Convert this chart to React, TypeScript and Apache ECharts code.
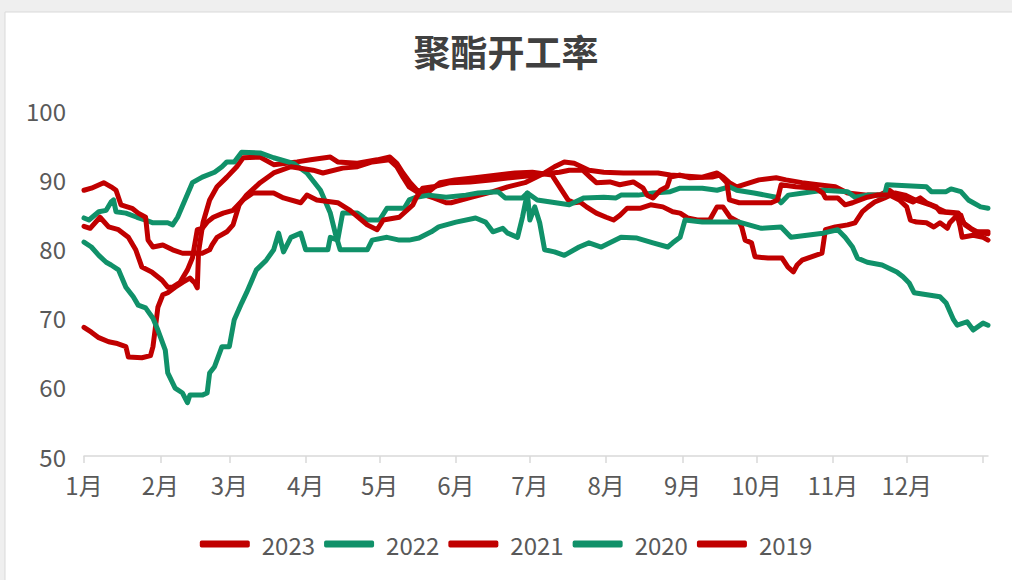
import React, { useEffect, useRef } from "react";
import * as echarts from "echarts";

const chartTitle = "聚酯开工率";
const months = ["1月", "2月", "3月", "4月", "5月", "6月", "7月", "8月", "9月", "10月", "11月", "12月"];
const monthStartDays = [0, 31, 59, 90, 120, 151, 181, 212, 243, 273, 304, 334, 365];
const yTicks = [50, 60, 70, 80, 90, 100];
const seriesNames = ["2023", "2022", "2021", "2020", "2019"];

// [day of year, rate %]
const data2023 = [
  [0, 68.6], [3, 67.9], [6, 67.1], [10, 66.5], [13, 66.3], [17, 65.8], [18, 64.3], [23.5, 64.2], [27, 64.5], [28, 65.8],
  [29, 68.6], [30, 71.5], [32, 73.3], [34, 73.6], [37, 74.4], [40, 75.1], [43, 75.7], [45, 75.0], [46, 74.3], [46.5, 79.5],
  [48.3, 83.7], [51, 87.0], [54, 88.9], [58, 90.3], [62, 91.8], [64.6, 93.1], [71.5, 93.2], [77, 92.1], [86.5, 92.5], [92, 92.8],
  [100, 93.2], [103, 92.5], [111, 92.3], [119, 92.8], [124.2, 93.2], [127, 92.3], [129.5, 90.9], [132.4, 89.5], [135.2, 88.4], [139.3, 88.0],
  [144.5, 89.5], [150.6, 89.9], [158.7, 90.2], [168, 90.6], [175, 90.9], [182, 91.0], [190, 90.6], [194, 88.4], [196.5, 87.0], [199, 86.6],
  [201.4, 86.7], [204, 86.0], [208, 85.1], [212, 84.5], [215, 84.1], [217.6, 84.8], [220.5, 85.8], [225.7, 85.8], [230, 86.3], [235, 86.0],
  [239, 85.3], [242, 85.1], [245, 84.4], [249, 84.1], [254, 84.1], [257, 86.0], [259.4, 86.0], [262.3, 84.5], [266, 83.8], [267, 83.1],
  [268.4, 81.2], [271, 80.8], [272.4, 78.8], [277.7, 78.6], [283.4, 78.6], [285.8, 77.3], [288, 76.6], [289.5, 77.6], [291.5, 78.3], [297, 79.0],
  [299.6, 79.3], [301, 82.7], [305, 83.1], [310, 83.4], [313, 83.7], [316, 85.3], [318.3, 86.0], [321, 86.7], [325, 87.3], [329.3, 88.0],
  [333.3, 87.7], [337.4, 87.0], [343.5, 86.3], [349.6, 85.3], [355, 85.1], [357.7, 83.4], [361.8, 82.4], [367, 82.1],
];

const data2022 = [
  [0, 84.4], [2, 84.1], [6, 85.3], [9, 85.5], [11, 86.7], [12, 87.0], [13, 85.3], [17, 85.1], [21.5, 84.5], [25, 84.1],
  [28, 83.7], [34, 83.7], [36, 83.4], [38, 84.5], [41, 87.0], [44, 89.5], [48, 90.3], [53, 91.0], [56, 91.8], [58, 92.5],
  [61, 92.5], [64, 93.9], [71.5, 93.8], [77, 93.1], [85, 92.3], [90.5, 90.9], [96, 88.4], [100, 85.1], [102, 82.2], [104, 79.8],
  [115, 79.8], [117, 81.2], [123, 81.6], [128, 81.2], [132, 81.2], [136, 81.5], [141, 82.4], [144, 83.1], [151, 83.8], [159, 84.4],
  [163, 83.8], [166, 82.4], [170, 82.9], [172, 82.2], [176, 81.6], [178, 84.5], [180, 88.0], [181, 84.1], [183, 86.0], [185, 83.7],
  [187, 79.8], [191, 79.5], [195, 79.0], [201, 80.2], [205, 80.8], [210, 80.2], [218, 81.6], [224.5, 81.5], [231, 80.8], [237, 80.2],
  [239, 80.8], [242, 81.6], [244, 84.1], [251, 83.8], [266, 83.8], [275, 82.9], [283, 83.1], [287, 81.6], [300, 82.2], [306, 82.7],
  [309, 81.6], [312, 80.2], [314, 78.6], [318, 78.0], [324, 77.6], [330, 76.6], [332.5, 75.9], [335, 75.0], [337, 73.6], [347.5, 73.0],
  [350, 72.1], [353, 69.7], [354.5, 68.9], [358.5, 69.4], [361, 68.2], [365, 69.2], [367, 68.9],
];

const data2021 = [
  [0, 88.4], [3, 88.7], [8, 89.5], [11, 88.9], [13, 88.4], [15, 86.3], [19.5, 85.8], [22, 85.1], [25, 84.5], [26, 81.2],
  [28, 80.2], [32, 80.5], [36, 79.8], [40, 79.3], [48, 79.3], [51, 79.8], [52, 80.5], [54, 81.6], [58, 82.4], [60.5, 83.4],
  [63, 86.3], [66, 87.7], [71.5, 89.5], [77, 90.9], [84, 91.8], [93, 91.3], [97, 90.9], [105, 91.6], [111, 91.8], [117, 92.5],
  [124, 92.8], [127, 91.8], [129.5, 90.3], [132, 88.9], [136, 88.0], [142, 87.3], [147, 86.6], [149, 86.6], [157.5, 87.4], [166, 88.2],
  [172, 88.9], [179, 89.5], [187, 90.9], [191, 91.8], [195, 92.5], [199, 92.3], [205, 91.3], [211, 91.0], [219, 90.9], [233, 90.9],
  [238, 90.6], [251, 90.3], [257, 90.9], [259.5, 90.3], [262, 89.5], [265, 88.9], [274, 89.9], [281, 90.2], [285, 89.9], [291.5, 89.5],
  [298, 89.2], [305, 88.9], [310, 88.0], [318, 87.7], [323, 87.7], [327, 88.4], [328.5, 88.0], [332.5, 87.3], [336.5, 86.7], [339.5, 87.3],
  [342, 86.6], [346, 86.0], [347.5, 85.3], [353, 85.1], [356, 84.8], [357, 83.7], [360, 82.9], [362.5, 82.4], [367, 82.4],
];

const data2020 = [
  [0, 80.9], [3, 80.2], [6, 79.0], [9, 78.0], [11, 77.6], [14, 76.9], [17, 74.4], [20, 73.0], [22, 71.8], [25, 71.4],
  [28, 69.9], [30, 68.2], [33, 65.3], [34, 62.0], [37, 59.8], [40, 59.1], [42, 57.7], [43, 58.8], [48, 58.8], [50, 59.1],
  [51, 62.0], [53, 62.9], [56, 65.8], [59, 65.8], [61, 69.7], [64, 72.1], [66, 73.6], [70, 76.9], [74, 78.3], [77, 79.8],
  [79, 82.2], [81, 79.5], [84, 81.6], [88, 82.2], [90, 79.8], [99, 79.8], [100, 81.6], [103, 81.2], [105, 85.1], [111, 85.1],
  [115, 84.1], [120, 84.1], [123, 85.8], [130, 85.8], [132, 87.0], [135, 87.4], [140, 87.7], [147, 87.4], [155, 87.7], [160, 88.0],
  [168, 88.2], [171, 87.3], [178, 87.3], [180, 88.0], [184, 87.0], [197, 86.3], [203, 87.3], [211, 87.4], [216, 87.3], [218, 87.7],
  [225, 87.7], [231, 88.0], [238, 88.2], [242, 88.7], [251, 88.7], [257, 88.4], [262, 88.9], [265, 88.4], [272, 88.0], [281, 87.4],
  [283, 86.6], [286, 87.7], [292, 88.0], [300, 88.4], [310, 88.2], [313, 87.4], [318, 87.7], [325, 87.7], [326, 89.2], [342, 88.9],
  [344, 88.2], [350, 88.2], [352, 88.6], [356, 88.2], [359, 87.0], [361, 86.6], [364, 86.0], [367, 85.8],
];

const data2019 = [
  [0, 83.2], [2.5, 82.9], [6.5, 84.5], [10, 83.1], [14, 82.7], [18, 81.6], [21, 79.8], [23.5, 77.3], [27.5, 76.6], [31.7, 75.4],
  [34, 74.4], [36, 74.4], [39, 75.1], [42, 76.9], [44, 78.6], [46, 82.7], [48, 82.9], [50, 83.8], [52.5, 84.5], [56.5, 85.1],
  [60.5, 85.5], [64.5, 87.0], [68.6, 88.0], [77, 88.0], [81, 87.3], [88, 86.6], [90.5, 87.7], [94.5, 87.0], [103, 86.6], [108, 85.5],
  [115, 83.4], [119, 82.7], [121.5, 84.1], [128, 84.5], [133.5, 86.3], [135, 87.4], [137.5, 88.7], [141.7, 88.9], [148.6, 89.5], [156.7, 89.6],
  [165, 89.9], [173, 90.2], [181, 90.5], [187, 90.8], [193, 91.0], [197, 91.3], [202.5, 91.3], [205.5, 90.3], [208, 89.5], [213.5, 89.6],
  [217.5, 89.2], [223, 89.6], [227, 88.7], [228.6, 87.7], [231, 87.3], [234, 88.4], [236.7, 88.9], [238, 90.3], [242, 90.6], [246, 90.2],
  [255, 90.3], [258, 90.6], [261, 89.5], [262, 87.0], [266, 86.6], [279, 86.6], [281.5, 87.0], [283, 89.2], [289, 88.9], [297, 88.7],
  [300, 88.0], [301, 87.3], [306, 87.3], [309, 86.3], [312, 86.6], [318, 87.4], [322, 87.7], [327, 87.7], [331, 87.0], [334, 86.0],
  [335.5, 84.1], [338, 83.8], [342, 83.7], [345, 83.1], [347.5, 83.7], [350.5, 82.9], [351.5, 83.7], [354.5, 84.8], [355.7, 83.1], [356.5, 81.6],
  [361, 81.9], [365, 81.6], [367, 81.2],
];

const seriesData = [data2023, data2022, data2021, data2020, data2019];
const RED = "#C00000";
const GREEN = "#109169";
const seriesColors = [RED, GREEN, RED, GREEN, RED];

const FONT = "'Noto Sans CJK SC', 'Noto Sans', sans-serif";

export default function App() {
  const ref = useRef<HTMLDivElement>(null);

  useEffect(() => {
    document.body.style.margin = "0";
    const chart = echarts.init(ref.current as HTMLDivElement, null, { renderer: "svg" });
    chart.setOption({
      animation: false,
      backgroundColor: "#EFEFEF",
      textStyle: { fontFamily: FONT },
      graphic: [
        {
          type: "rect",
          shape: { x: 5, y: 12, width: 1012, height: 575 },
          style: { fill: "#FFFFFF", stroke: "#D9D9D9", lineWidth: 1 },
          z: -10,
          silent: true,
        },
      ],
      title: {
        text: chartTitle,
        left: "center",
        top: 27,
        textStyle: { fontSize: 37, fontWeight: "bold", color: "#404040", fontFamily: FONT },
      },
      legend: {
        data: seriesNames,
        bottom: 19,
        left: "center",
        icon: "roundRect",
        itemWidth: 50,
        itemHeight: 7,
        itemGap: 9,
        textStyle: { fontSize: 24, color: "#595959", fontFamily: FONT, padding: [0, 0, 0, 7] },
      },
      grid: { left: 84, right: 24, top: 110, bottom: 124, containLabel: false },
      xAxis: {
        type: "value",
        min: 0,
        max: 367,
        splitLine: { show: false },
        axisLine: { show: true, lineStyle: { color: "#D9D9D9", width: 1.5 } },
        axisTick: { show: true, customValues: monthStartDays, length: 7, lineStyle: { color: "#D9D9D9", width: 1.5 } },
        axisLabel: {
          customValues: monthStartDays.slice(0, 12),
          formatter: (v: number) => months[monthStartDays.indexOf(Math.round(v))] || "",
          fontSize: 24,
          color: "#595959",
          margin: 16,
          fontFamily: FONT,
        },
      },
      yAxis: {
        type: "value",
        min: yTicks[0],
        max: yTicks[yTicks.length - 1],
        interval: 10,
        splitLine: { show: false },
        axisLine: { show: false },
        axisTick: { show: false },
        axisLabel: { fontSize: 24, color: "#595959", margin: 18, fontFamily: FONT },
      },
      series: seriesNames.map((name, i) => ({
        name,
        type: "line",
        data: seriesData[i],
        showSymbol: false,
        symbol: "none",
        color: seriesColors[i],
        lineStyle: { width: 5, color: seriesColors[i], cap: "round", join: "round" },
      })),
    });
    return () => chart.dispose();
  }, []);

  return <div ref={ref} style={{ width: 1012, height: 580 }} />;
}
